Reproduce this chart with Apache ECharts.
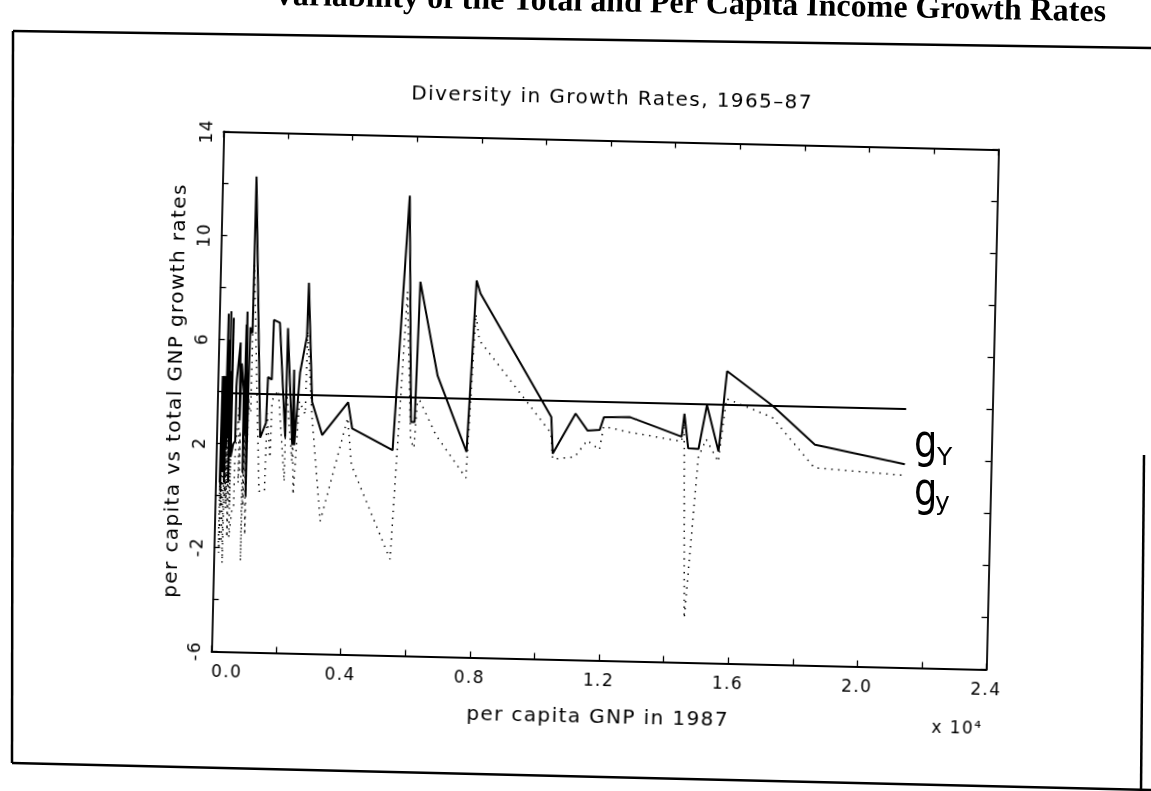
<!DOCTYPE html>
<html><head><meta charset="utf-8">
<script src="https://cdn.jsdelivr.net/npm/echarts@6/dist/echarts.min.js"></script>
<style>
html,body{margin:0;padding:0;background:#fff;overflow:hidden;}
#bg,#main{position:absolute;left:0;top:0;width:1151px;height:791px;}
#main{transform-origin:605px 400.5px;transform:rotate(1.34deg);}
#main text{letter-spacing:1.4px;}
</style></head><body>
<div id="bg"></div><div id="main"></div>
<script>
// per capita GNP in 1987 (US$), sorted ascending
const gnpPerCapita = [130,150,150,160,160,160,180,190,210,210,250,250,260,260,290,290,290,300,300,300,310,330,330,330,350,360,370,370,390,400,440,450,450,
  520,580,580,590,610,680,700,730,740,810,830,850,860,870,940,950,970,990,1040,1050,
  1352,1520,1552,1669,1694,1881,2125,2135,2348,2355,2410,2540,2728,2750,2934,3270,4049,4193,
  5460,5810,6010,6120,6200,6800,7750,7940,8070,
  10350,10420,11100,11480,11860,11980,12790,14400,14470,14610,14930,15160,15550,15760,17190,18530,21330];
// total GNP growth rate g_Y (%), 1965-87
const totalGrowth = [0.5,4.6,0.2,3.2,1.8,2.9,2.5,4.0,4.6,0.9,4.6,1.1,0.9,0.5,7.0,2.6,3.6,4.0,4.9,1.8,3.0,2.2,6.0,2.6,5.5,2.3,7.1,3.6,0.5,4.8,2.1,6.85,1.5,
  2.0,2.1,4.2,4.5,4.5,5.9,2.9,5.1,5.0,4.0,0.9,6.6,2.4,7.1,0.0,4.0,6.5,6.3,6.3,12.3,
  2.26,2.83,4.6,4.5,6.8,6.7,2.3,6.5,2.0,4.9,2.0,4.8,6.2,8.26,3.68,2.42,3.7,2.7,
  1.9,11.7,3.0,3.0,8.4,4.8,1.9,8.5,8.0,
  3.32,1.91,3.47,2.83,2.87,3.36,3.38,2.68,3.56,2.24,2.22,3.92,2.14,5.24,3.95,2.49,1.82];
// per capita GNP growth rate g_y (%), 1965-87
const perCapitaGrowth = [-1.8,2.0,-2.2,0.3,-0.9,0.5,-0.4,1.6,1.8,-1.8,2.0,-2.1,-2.2,-2.6,5.2,0.3,0.0,1.8,1.6,0.2,0.2,-0.3,1.9,-0.5,2.5,0.5,4.7,1.1,-1.6,3.0,-0.4,4.5,-1.6,
  -0.6,-0.5,0.9,1.7,2.0,3.5,0.5,2.5,1.0,0.6,-2.5,3.9,-0.4,4.2,-1.5,1.2,3.8,3.4,3.2,8.9,
  0.2,0.2,3.2,1.5,3.7,4.1,0.6,4.1,1.4,2.4,0.1,3.7,3.2,6.4,3.2,-0.9,3.1,1.3,
  -2.3,8.0,2.3,2.0,4.0,2.5,0.9,7.2,6.2,
  2.7,1.7,1.8,2.45,2.1,3.0,2.8,2.5,3.2,-4.3,1.9,2.6,1.75,4.18,3.5,1.6,1.39];
const meanGrowth = 3.94;
const xLabelStep = 4000, xTickStep = 2000;
const yLabelStep = 4, yTickStep = 2;

const F = '"DejaVu Sans", sans-serif';
const black = '#000';
const axisBase = {
  axisLine:{show:true,onZero:false,lineStyle:{color:black,width:1.8}},
  axisTick:{show:true,inside:true,length:6,lineStyle:{color:black,width:1.3}},
  splitLine:{show:false}
};
const main = echarts.init(document.getElementById('main'), null, {renderer:'svg'});
main.setOption({
  animation:false,
  backgroundColor:'transparent',
  grid:{left:217.5, top:140.5, width:775, height:520, containLabel:false},
  xAxis:[
    Object.assign({type:'value',min:0,max:24000,interval:xTickStep,position:'bottom',
      axisLabel:{formatter:v=>(v%xLabelStep===0?(v/10000).toFixed(1):''),color:black,fontFamily:F,fontSize:17,margin:11,alignMinLabel:'left'},
      name:'per capita GNP in 1987',nameLocation:'middle',nameGap:45,
      nameTextStyle:{color:black,fontFamily:F,fontSize:20}},axisBase),
    Object.assign({type:'value',min:0,max:24000,interval:xTickStep,position:'top',axisLabel:{show:false}},axisBase)
  ],
  yAxis:[
    Object.assign({type:'value',min:-6,max:14,interval:yTickStep,position:'left',
      axisLabel:{formatter:v=>(((v+6)%yLabelStep===0)?String(v):''),rotate:90,color:black,fontFamily:F,fontSize:17,margin:9},
      name:'per capita vs total GNP growth rates',nameLocation:'middle',nameGap:34,
      nameTextStyle:{color:black,fontFamily:F,fontSize:20}},axisBase),
    Object.assign({type:'value',min:-6,max:14,interval:yTickStep,position:'right',axisLabel:{show:false}},axisBase)
  ],
  series:[
    {type:'line',name:'g_Y',data:gnpPerCapita.map((x,i)=>[x,totalGrowth[i]]),symbol:'none',silent:true,
      lineStyle:{color:black,width:2}},
    {type:'line',name:'g_y',data:gnpPerCapita.map((x,i)=>[x,perCapitaGrowth[i]]),symbol:'none',silent:true,
      lineStyle:{color:black,width:1.5,type:[1.4,5.5]}},
    {type:'line',name:'mean',data:[[gnpPerCapita[0],meanGrowth],[gnpPerCapita[gnpPerCapita.length-1],meanGrowth]],symbol:'none',silent:true,
      lineStyle:{color:black,width:2}}
  ],
  graphic:[
    {type:'text',x:605,y:97,style:{text:'Diversity in Growth Rates, 1965\u201387',fill:black,font:'20px "DejaVu Sans"',align:'center',verticalAlign:'middle',textAlign:'center',textVerticalAlign:'middle'}},
    {type:'text',x:990,y:719,style:{text:'x 10\u2074',fill:black,font:'17px "DejaVu Sans"',align:'right',verticalAlign:'middle',textAlign:'right',textVerticalAlign:'middle'}}
  ]
});

const bg = echarts.init(document.getElementById('bg'));
bg.setOption({
  animation:false,
  graphic:[
    {type:'polyline',shape:{points:[[13,31],[1151,48]]},style:{stroke:black,lineWidth:2.5,fill:null}},
    {type:'polyline',shape:{points:[[13,31],[12,763]]},style:{stroke:black,lineWidth:2.5,fill:null}},
    {type:'polyline',shape:{points:[[12,763],[1151,790]]},style:{stroke:black,lineWidth:2.5,fill:null}},
    {type:'polyline',shape:{points:[[1144,455],[1141,791]]},style:{stroke:black,lineWidth:2.5,fill:null}},
    {type:'text',x:1106,y:13,rotation:-0.02,style:{text:'Variability of the Total and Per Capita Income Growth Rates',fill:black,font:'bold 32px "Liberation Serif"',align:'right',verticalAlign:'middle',textAlign:'right',textVerticalAlign:'middle'}},
    {type:'text',x:914,y:445,scaleX:0.8,style:{text:'g',fill:black,font:'46px "DejaVu Sans"',align:'left',verticalAlign:'middle',textAlign:'left',textVerticalAlign:'middle'}},
    {type:'text',x:937,y:458,style:{text:'Y',fill:black,font:'25px "DejaVu Sans"',align:'left',verticalAlign:'middle',textAlign:'left',textVerticalAlign:'middle'}},
    {type:'text',x:914,y:493,scaleX:0.8,style:{text:'g',fill:black,font:'46px "DejaVu Sans"',align:'left',verticalAlign:'middle',textAlign:'left',textVerticalAlign:'middle'}},
    {type:'text',x:935,y:503,style:{text:'y',fill:black,font:'25px "DejaVu Sans"',align:'left',verticalAlign:'middle',textAlign:'left',textVerticalAlign:'middle'}}
  ]
});
</script></body></html>
